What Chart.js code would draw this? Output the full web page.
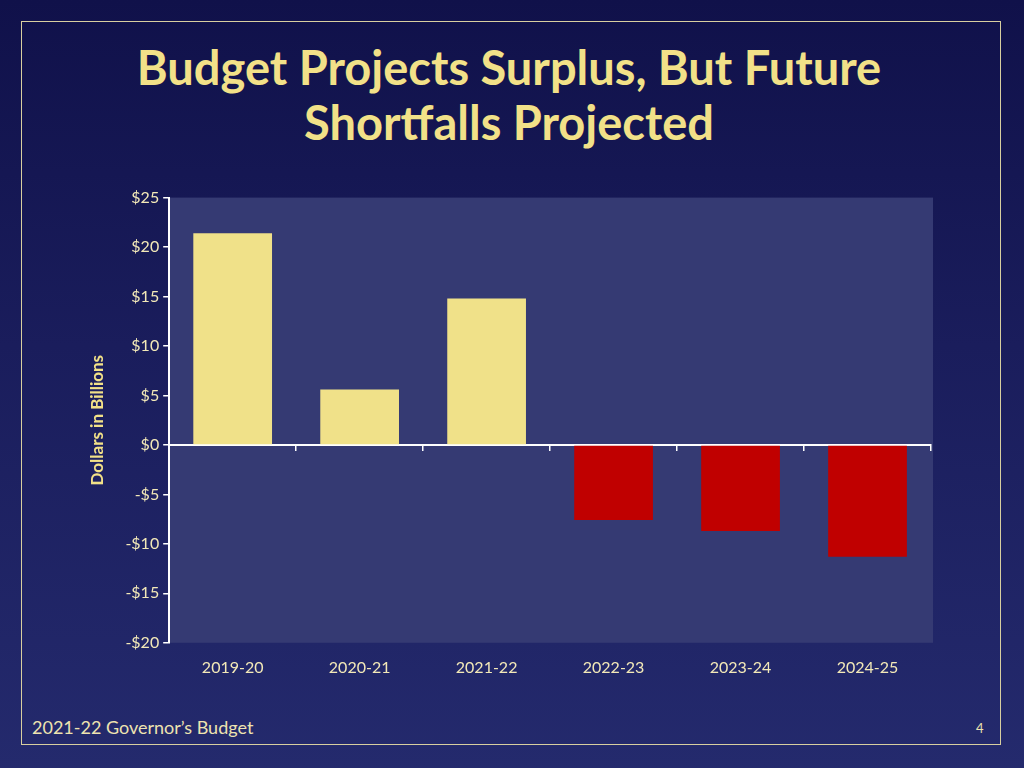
<!DOCTYPE html>
<html>
<head>
<meta charset="utf-8">
<script src="https://cdn.jsdelivr.net/npm/chart.js@4/dist/chart.umd.min.js"></script>
<style>
  html, body { margin: 0; padding: 0; }
  body {
    width: 1024px; height: 768px; overflow: hidden; position: relative;
    background: linear-gradient(180deg, #10114a 0%, #1a1d5c 45%, #242a6d 100%);
    font-family: Lato, "Open Sans", sans-serif;
  }
  .frame {
    position: absolute; left: 21px; top: 21px; width: 978px; height: 722px;
    border: 1px solid #d8cfa0;
  }
  .title {
    position: absolute; left: 0; width: 1018px; top: 40px; text-align: center;
    color: #f2e188; font-weight: bold; font-size: 47px; line-height: 55px;
  }
  .foot {
    position: absolute; top: 716px; color: #eee3b0; font-size: 18px;
  }
  #wrap { position: absolute; left: 83px; top: 184px; width: 866px; height: 500px; }
</style>
</head>
<body>
<div class="frame"></div>
<div class="title">Budget Projects Surplus, But Future<br>Shortfalls Projected</div>
<div id="wrap"><canvas id="c"></canvas></div>
<div class="foot" style="left:32px">2021-22 Governor’s Budget</div>
<div class="foot" style="left:976px; font-size:13px; top:720px">4</div>
<script>
// fiscal years and balance, $ billions
const years = ['2019-20', '2020-21', '2021-22', '2022-23', '2023-24', '2024-25'];
const balance = [21.4, 5.6, 14.8, -7.6, -8.7, -11.3];
const yMin = -20, yMax = 25, yStep = 5;

const tickColor = '#f3e9b8';

// light panel behind the plot
const panel = {
  id: 'panel',
  beforeDraw(chart) {
    const { ctx, chartArea: a } = chart;
    ctx.save();
    ctx.fillStyle = '#353a73';
    ctx.fillRect(a.left, a.top, a.right - a.left + 2, a.bottom - a.top);
    ctx.restore();
  }
};

new Chart(document.getElementById('c'), {
  type: 'bar',
  data: {
    labels: years,
    datasets: [{
      data: balance,
      backgroundColor: balance.map(v => v >= 0 ? '#f0e189' : '#c00000'),
      borderWidth: 0,
      barPercentage: 0.62,
      categoryPercentage: 1,
      xAxisID: 'x'
    }]
  },
  options: {
    responsive: true,
    maintainAspectRatio: false,
    animation: false,
    layout: { padding: { left: 0, right: 18, top: 4, bottom: 0 } },
    plugins: { legend: { display: false }, tooltip: { enabled: false } },
    scales: {
      x: {
        position: { y: 0 },
        grid: { display: true, drawOnChartArea: false, drawTicks: true, tickLength: 5, color: '#ffffff', lineWidth: 1.5, offset: true },
        border: { color: '#ffffff', width: 2 },
        ticks: { display: false }
      },
      xLabels: {
        type: 'category',
        position: 'bottom',
        grid: { display: false },
        border: { display: false },
        ticks: { color: tickColor, font: { family: 'Lato', size: 16 }, padding: 7 }
      },
      y: {
        min: yMin, max: yMax,
        grid: { display: true, drawOnChartArea: false, tickLength: 6, color: '#ffffff', lineWidth: 1.5 },
        border: { color: '#ffffff', width: 2 },
        ticks: {
          stepSize: yStep, color: tickColor, font: { family: 'Lato', size: 16 }, padding: 4,
          callback: v => (v < 0 ? '-$' : '$') + Math.abs(v)
        },
        title: { display: true, text: 'Dollars in Billions', color: '#f2e188', font: { family: 'Lato', size: 17, weight: 'bold' }, padding: { bottom: 14 } }
      }
    }
  },
  plugins: [panel]
});
</script>
</body>
</html>
